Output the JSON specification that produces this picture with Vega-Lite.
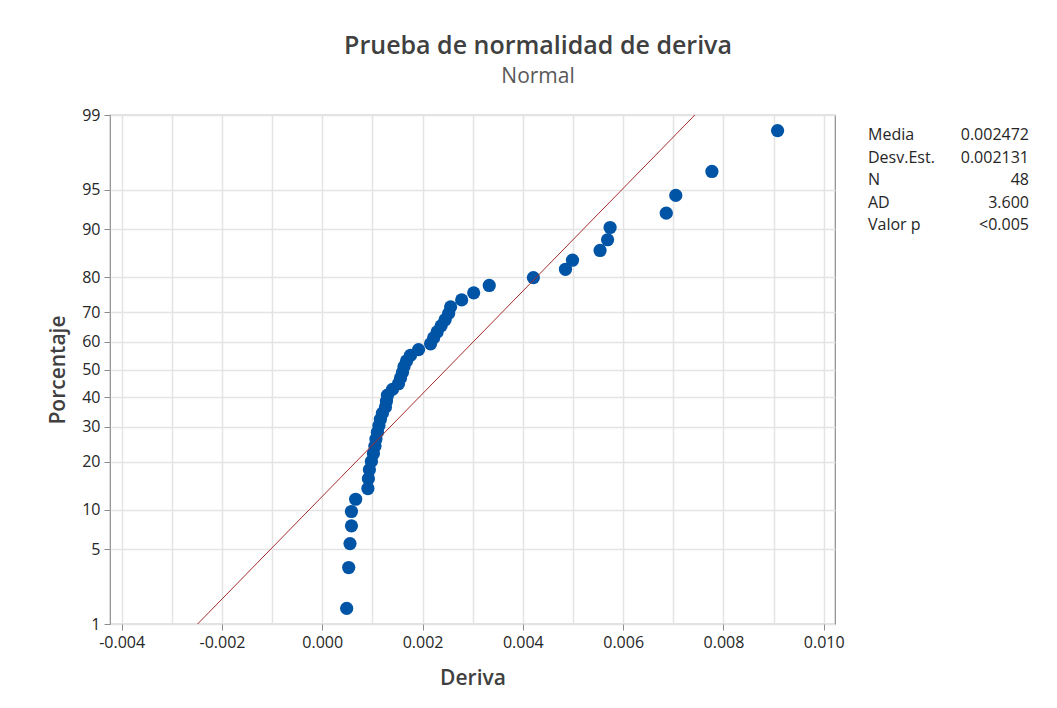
{
  "$schema": "https://vega.github.io/schema/vega-lite/v6.json",
  "padding": {"left": 47, "top": 34, "right": 10, "bottom": 10},
  "background": "white",
  "config": {"font": "Open Sans", "axis": {"labelFont": "Open Sans", "titleFont": "Open Sans"}},
  "title": {
    "text": "Prueba de normalidad de deriva",
    "subtitle": "Normal",
    "anchor": "middle",
    "font": "Open Sans",
    "fontSize": 25,
    "fontWeight": 600,
    "color": "#404040",
    "subtitleFont": "Open Sans",
    "subtitleFontSize": 21,
    "subtitleColor": "#595959",
    "subtitlePadding": 7,
    "offset": 19
  },
  "datasets": {
    "puntos": [
      {"i": 1, "z": -2.184, "deriva": 0.000487},
      {"i": 2, "z": -1.810, "deriva": 0.000527},
      {"i": 3, "z": -1.591, "deriva": 0.000553},
      {"i": 4, "z": -1.429, "deriva": 0.000582},
      {"i": 5, "z": -1.298, "deriva": 0.000582},
      {"i": 6, "z": -1.186, "deriva": 0.000666},
      {"i": 7, "z": -1.088, "deriva": 0.00091},
      {"i": 8, "z": -0.999, "deriva": 0.00092},
      {"i": 9, "z": -0.916, "deriva": 0.00094},
      {"i": 10, "z": -0.840, "deriva": 0.00098},
      {"i": 11, "z": -0.768, "deriva": 0.00102},
      {"i": 12, "z": -0.701, "deriva": 0.00105},
      {"i": 13, "z": -0.636, "deriva": 0.00107},
      {"i": 14, "z": -0.573, "deriva": 0.00110},
      {"i": 15, "z": -0.513, "deriva": 0.00113},
      {"i": 16, "z": -0.455, "deriva": 0.00116},
      {"i": 17, "z": -0.399, "deriva": 0.00120},
      {"i": 18, "z": -0.343, "deriva": 0.00126},
      {"i": 19, "z": -0.289, "deriva": 0.00128},
      {"i": 20, "z": -0.235, "deriva": 0.00130},
      {"i": 21, "z": -0.182, "deriva": 0.00140},
      {"i": 22, "z": -0.130, "deriva": 0.00152},
      {"i": 23, "z": -0.078, "deriva": 0.00156},
      {"i": 24, "z": -0.026, "deriva": 0.00160},
      {"i": 25, "z": 0.026, "deriva": 0.00163},
      {"i": 26, "z": 0.078, "deriva": 0.00168},
      {"i": 27, "z": 0.130, "deriva": 0.00176},
      {"i": 28, "z": 0.182, "deriva": 0.00192},
      {"i": 29, "z": 0.235, "deriva": 0.00216},
      {"i": 30, "z": 0.289, "deriva": 0.00222},
      {"i": 31, "z": 0.343, "deriva": 0.00229},
      {"i": 32, "z": 0.399, "deriva": 0.00237},
      {"i": 33, "z": 0.455, "deriva": 0.00245},
      {"i": 34, "z": 0.513, "deriva": 0.00252},
      {"i": 35, "z": 0.573, "deriva": 0.00256},
      {"i": 36, "z": 0.636, "deriva": 0.00278},
      {"i": 37, "z": 0.701, "deriva": 0.00302},
      {"i": 38, "z": 0.768, "deriva": 0.00333},
      {"i": 39, "z": 0.840, "deriva": 0.00421},
      {"i": 40, "z": 0.916, "deriva": 0.00485},
      {"i": 41, "z": 0.999, "deriva": 0.00499},
      {"i": 42, "z": 1.088, "deriva": 0.00554},
      {"i": 43, "z": 1.186, "deriva": 0.00569},
      {"i": 44, "z": 1.298, "deriva": 0.00574},
      {"i": 45, "z": 1.429, "deriva": 0.00686},
      {"i": 46, "z": 1.591, "deriva": 0.00705},
      {"i": 47, "z": 1.810, "deriva": 0.00777},
      {"i": 48, "z": 2.184, "deriva": 0.00908}
    ],
    "ajuste": [
      {"z": -2.3263, "deriva": -0.002486},
      {"z": 2.3263, "deriva": 0.007430}
    ],
    "estadisticas": [
      {"fila": 1, "etiqueta": "Media", "valor": "0.002472"},
      {"fila": 2, "etiqueta": "Desv.Est.", "valor": "0.002131"},
      {"fila": 3, "etiqueta": "N", "valor": "48"},
      {"fila": 4, "etiqueta": "AD", "valor": "3.600"},
      {"fila": 5, "etiqueta": "Valor p", "valor": "<0.005"}
    ]
  },
  "spacing": 23,
  "hconcat": [
    {
      "width": 725,
      "height": 509,
      "view": {"stroke": "#8c8c8c", "strokeWidth": 1.2},
      "layer": [
        {
          "data": {"name": "puntos"},
          "mark": {"type": "point", "shape": "circle", "filled": true, "size": 175, "opacity": 1, "color": "#0054a6"},
          "encoding": {
            "x": {
              "field": "deriva",
              "type": "quantitative",
              "scale": {"domain": [-0.004233, 0.010225], "nice": false, "zero": false},
              "axis": {
                "title": "Deriva",
                "values": [-0.004, -0.003, -0.002, -0.001, 0, 0.001, 0.002, 0.003, 0.004, 0.005, 0.006, 0.007, 0.008, 0.009, 0.010],
                "labelExpr": "abs(round(datum.value*1000)) % 2 == 0 ? replace(format(datum.value, '.3f'), '\u2212', '-') : ''",
                "tickOpacity": {"condition": {"test": "abs(round(datum.value*1000)) % 2 == 1", "value": 0}, "value": 1},
                "labelOverlap": false,
                "labelFlush": false,
                "grid": true,
                "gridColor": "#e4e4e4",
                "gridWidth": 1.5,
                "domain": false,
                "tickColor": "#8c8c8c",
                "tickSize": 6,
                "labelFontSize": 16,
                "labelColor": "#262626",
                "labelPadding": 4,
                "titleFontSize": 21,
                "titleFontWeight": 600,
                "titleColor": "#404040",
                "titlePadding": 17
              }
            },
            "y": {
              "field": "z",
              "type": "quantitative",
              "scale": {"domain": [-2.3263, 2.3263], "nice": false, "zero": false},
              "axis": {
                "title": "Porcentaje",
                "values": [-2.3263, -1.6449, -1.2816, -0.8416, -0.5244, -0.2533, 0, 0.2533, 0.5244, 0.8416, 1.2816, 1.6449, 2.3263],
                "labelExpr": "format(round(cumulativeNormal(datum.value)*100), 'd')",
                "labelOverlap": false,
                "grid": true,
                "gridColor": "#e4e4e4",
                "gridWidth": 1.5,
                "domain": false,
                "tickColor": "#8c8c8c",
                "tickSize": 6,
                "labelFontSize": 16,
                "labelColor": "#262626",
                "labelPadding": 4,
                "titleFontSize": 21,
                "titleFontWeight": 600,
                "titleColor": "#404040",
                "titlePadding": 13
              }
            }
          }
        },
        {
          "data": {"name": "ajuste"},
          "mark": {"type": "line", "color": "#a82b2b", "strokeWidth": 1},
          "encoding": {
            "x": {"field": "deriva", "type": "quantitative"},
            "y": {"field": "z", "type": "quantitative"}
          }
        }
      ]
    },
    {
      "width": 161,
      "height": 133,
      "data": {"name": "estadisticas"},
      "view": {"stroke": null},
      "encoding": {
        "y": {"field": "fila", "type": "quantitative", "scale": {"domain": [0.12, 6], "reverse": true, "nice": false, "zero": false}, "axis": null}
      },
      "layer": [
        {
          "mark": {"type": "text", "align": "left", "baseline": "middle", "fontSize": 16, "font": "Open Sans", "color": "#262626"},
          "encoding": {
            "x": {"datum": 0, "type": "quantitative", "scale": {"domain": [0, 1], "nice": false, "zero": false}, "axis": null},
            "text": {"field": "etiqueta"}
          }
        },
        {
          "mark": {"type": "text", "align": "right", "baseline": "middle", "fontSize": 16, "font": "Open Sans", "color": "#262626"},
          "encoding": {
            "x": {"datum": 1, "type": "quantitative"},
            "text": {"field": "valor"}
          }
        }
      ]
    }
  ]
}
